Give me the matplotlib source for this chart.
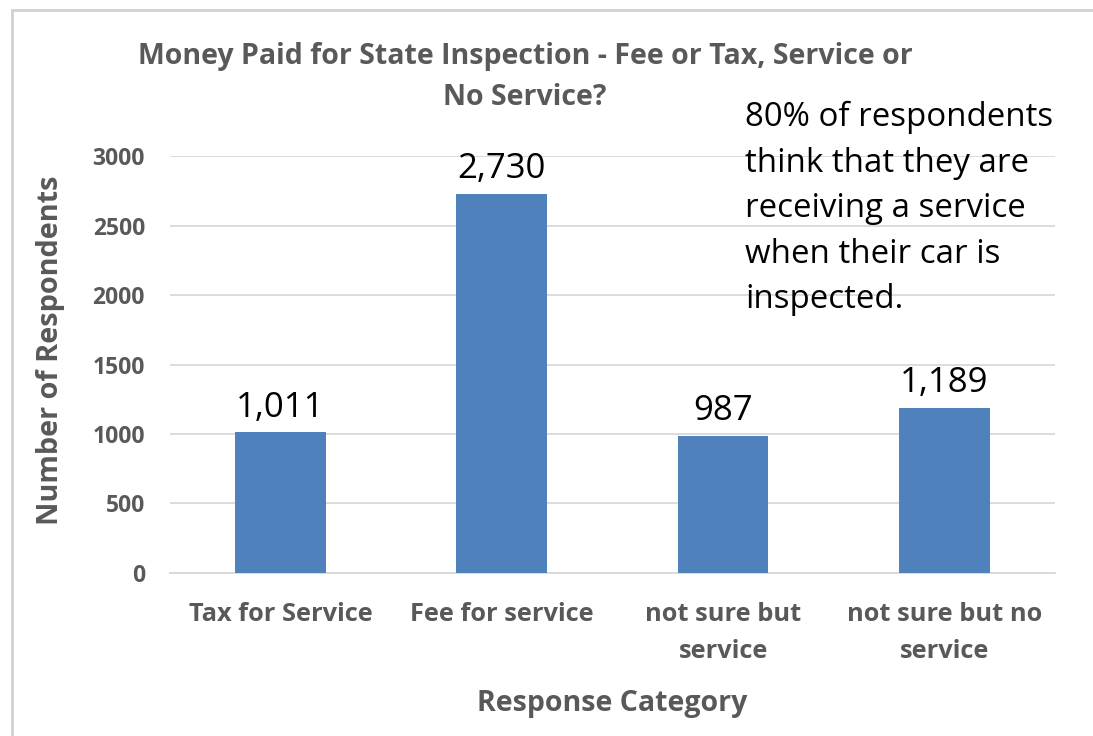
import matplotlib.pyplot as plt
from matplotlib.patches import Rectangle

categories = ['Tax for Service', 'Fee for service', 'not sure but\nservice', 'not sure but no\nservice']
counts = [1011, 2730, 987, 1189]
yticks = [0, 500, 1000, 1500, 2000, 2500, 3000]

font = ['Open Sans', 'DejaVu Sans']
grey = '#595959'

fig = plt.figure(figsize=(10.93, 7.36), dpi=100)
ax = fig.add_axes([0.1555, 0.2215, 0.8097, 0.5665])

# chart frame
fig.patches.append(Rectangle((12 / 1093, -0.1), 1.2, (736 - 10) / 736 + 0.1,
                             transform=fig.transFigure, fill=False,
                             edgecolor='#d0d0d0', linewidth=2))

x = range(len(categories))
ax.bar(x, counts, width=0.41, color='#4f81bd', zorder=3)
for i, v in zip(x, counts):
    ax.text(i, v + 55, f'{v:,}', ha='center', va='bottom', fontsize=25,
            family=font, color='black')

ax.set_xlim(-0.5, 3.5)
ax.set_ylim(0, 3000)
ax.set_yticks(yticks)
ax.yaxis.grid(True, color='#d9d9d9', linewidth=1.3, zorder=0)
for s in ['top', 'right', 'left']:
    ax.spines[s].set_visible(False)
ax.spines['bottom'].set_color('#d9d9d9')
ax.spines['bottom'].set_linewidth(1.3)
ax.tick_params(length=0)
ax.tick_params(axis='y', pad=18)
ax.tick_params(axis='x', pad=21)
ax.set_xticks(list(x))
ax.set_xticklabels(categories, fontsize=18.3, family=font, fontweight='bold',
                   color=grey, linespacing=1.65)
for lbl in ax.get_yticklabels():
    lbl.set_fontsize(16.5)
    lbl.set_fontweight('bold')
    lbl.set_color(grey)
    lbl.set_family(font)

ax.set_xlabel('Response Category', fontsize=20.5, family=font, fontweight='bold',
              color=grey, labelpad=18)
ax.set_ylabel('Number of Respondents', fontsize=20.8, family=font,
              fontweight='bold', color=grey)
ax.yaxis.set_label_coords(-0.119, 0.535)

fig.text(525 / 1093, 1 - 77 / 736, 'Money Paid for State Inspection - Fee or Tax, Service or\nNo Service?',
         ha='center', va='center', fontsize=20.5, family=font, fontweight='bold',
         color=grey, linespacing=1.55)

fig.text(745 / 1093, 1 - 101 / 736,
         '80% of respondents\nthink that they are\nreceiving a service\nwhen their car is\ninspected.',
         ha='left', va='top', fontsize=23.8, family=font,
         color='black', linespacing=1.5)

fig.savefig('out.png', dpi=100)
